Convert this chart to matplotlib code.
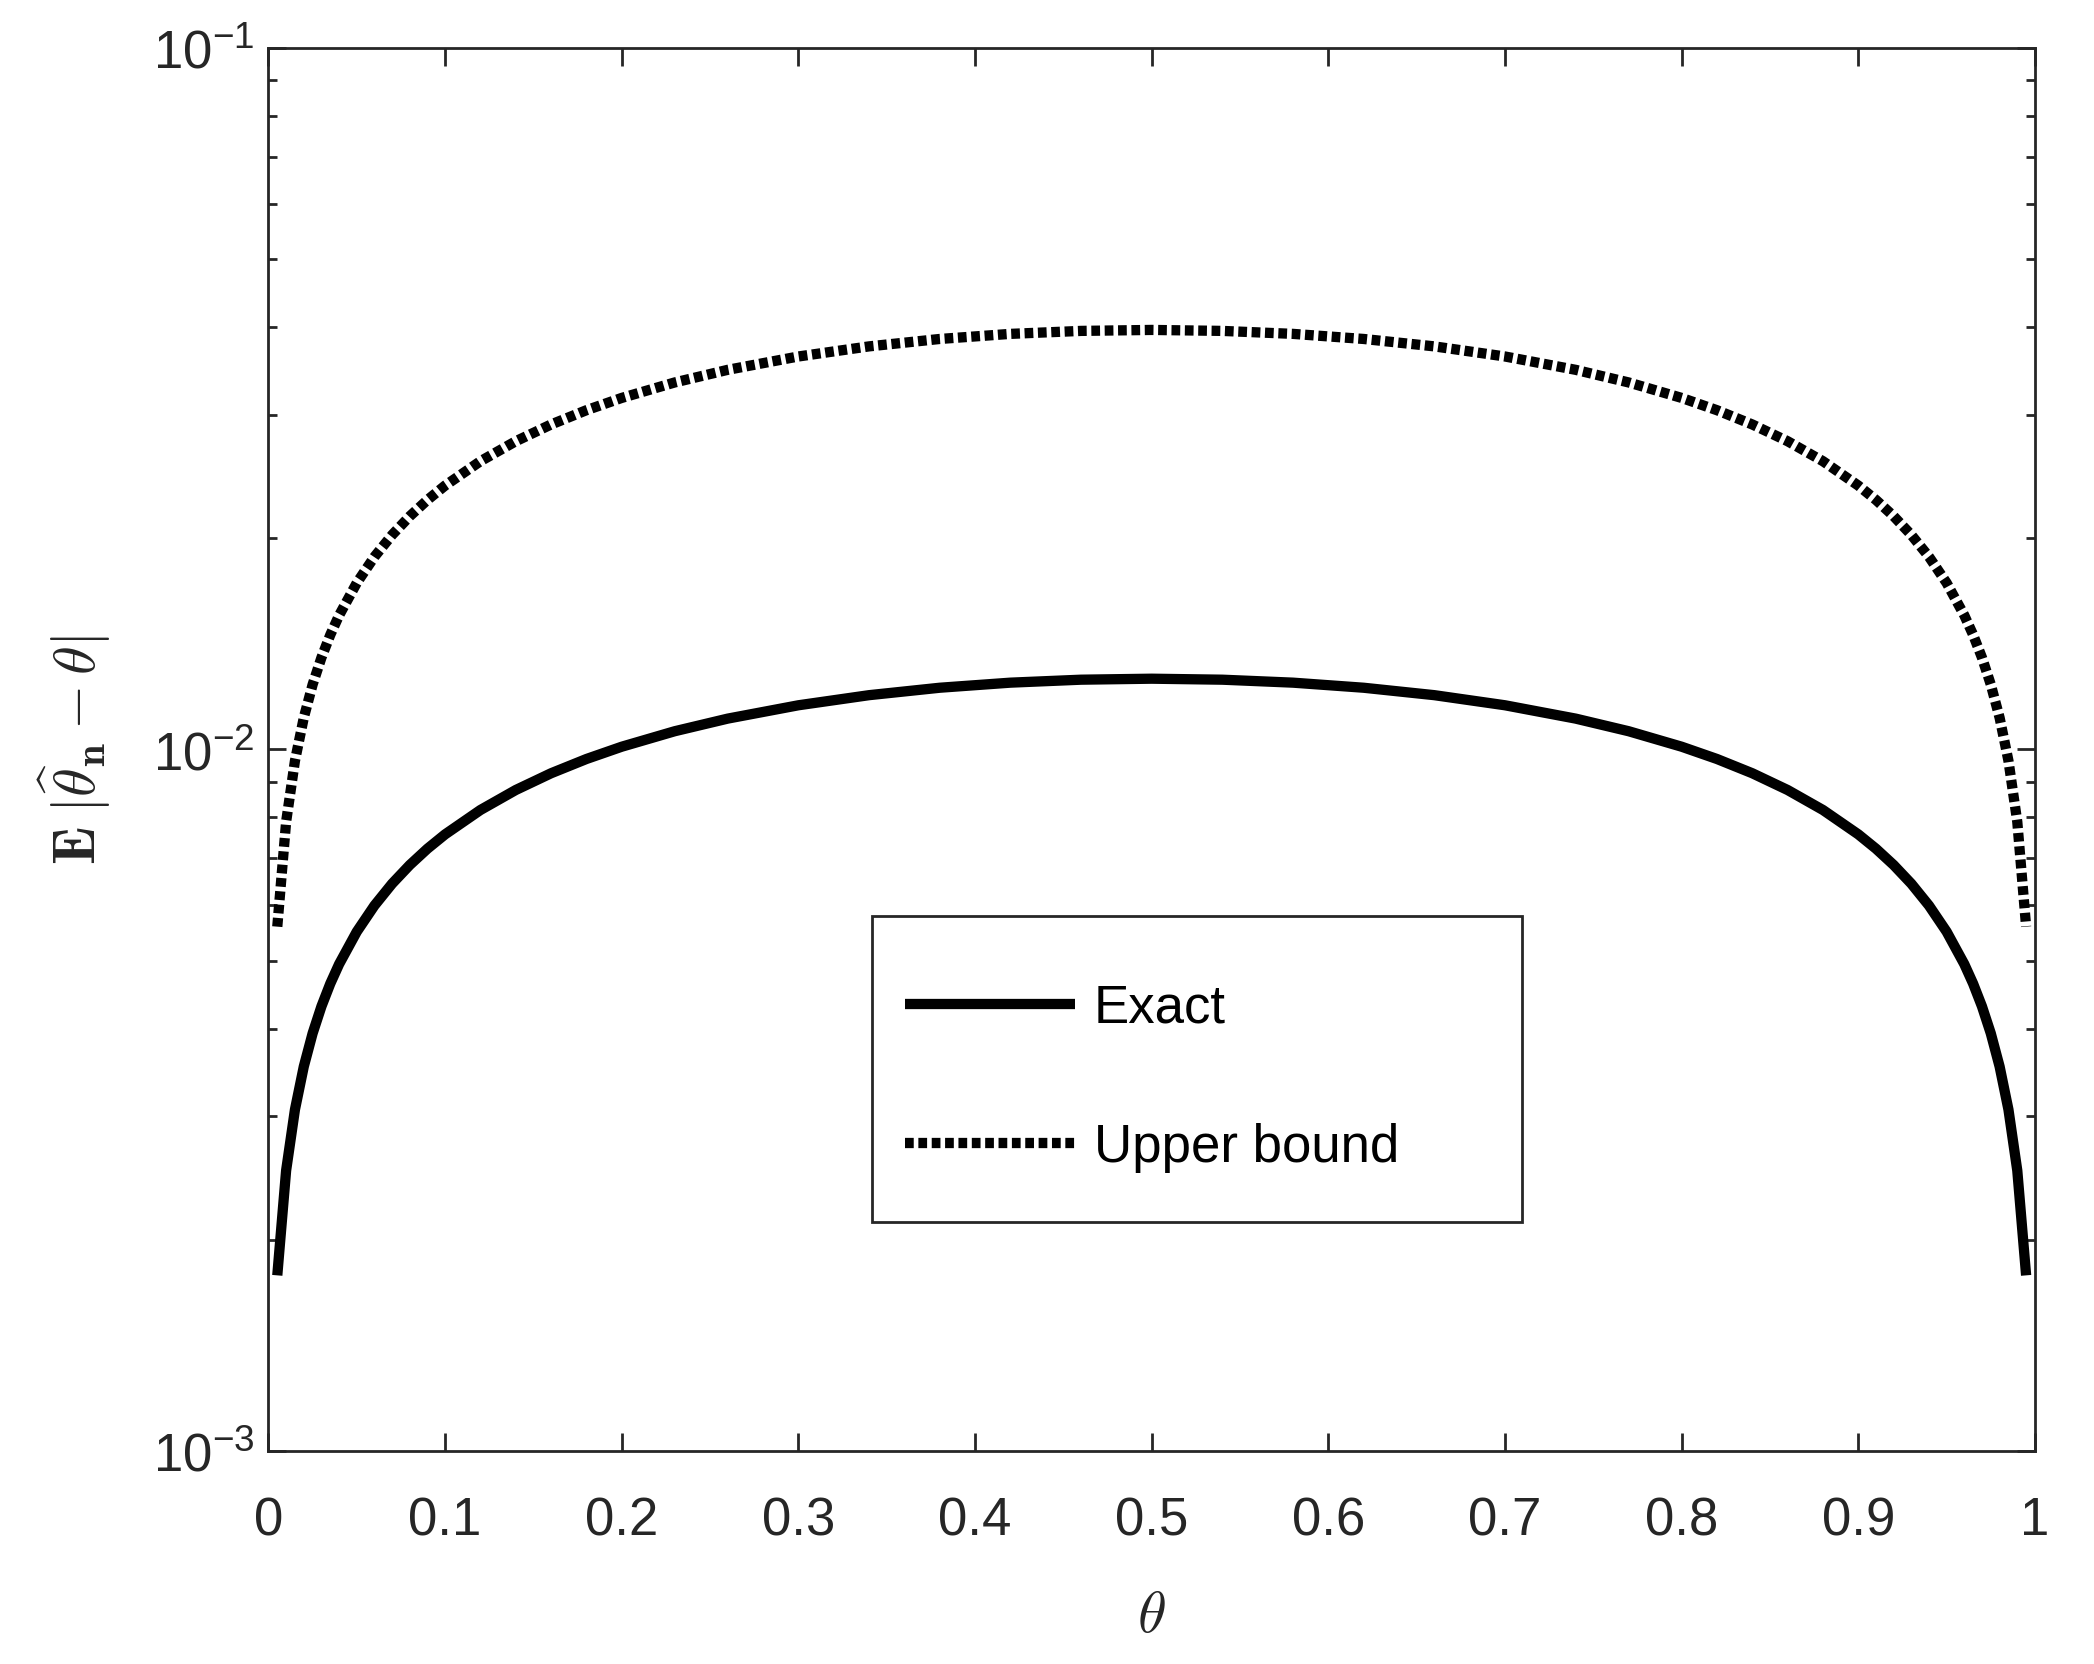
import matplotlib
matplotlib.use("Agg")
import matplotlib.pyplot as plt
from matplotlib.patches import Rectangle
from matplotlib.ticker import FixedLocator, FuncFormatter, LogLocator, NullFormatter

# theta grid and values (n = 1000 case)
theta = [0.005, 0.01, 0.015, 0.02, 0.025, 0.03, 0.035, 0.04, 0.05, 0.06,
         0.07, 0.08, 0.09, 0.10, 0.12, 0.14, 0.16, 0.18, 0.20, 0.23,
         0.26, 0.30, 0.34, 0.38, 0.42, 0.46, 0.50,
         0.54, 0.58, 0.62, 0.66, 0.70, 0.74, 0.77, 0.80, 0.82, 0.84,
         0.86, 0.88, 0.90, 0.91, 0.92, 0.93, 0.94, 0.95, 0.96, 0.965,
         0.97, 0.975, 0.98, 0.985, 0.99, 0.995]

exact = [1.780e-3, 2.511e-3, 3.067e-3, 3.532e-3, 3.939e-3, 4.304e-3, 4.637e-3, 4.944e-3, 5.499e-3, 5.992e-3,
         6.438e-3, 6.845e-3, 7.221e-3, 7.569e-3, 8.199e-3, 8.755e-3, 9.250e-3, 9.693e-3, 1.0092e-2, 1.0618e-2,
         1.1067e-2, 1.1562e-2, 1.1952e-2, 1.2247e-2, 1.2453e-2, 1.2575e-2, 1.2616e-2,
         1.2575e-2, 1.2453e-2, 1.2247e-2, 1.1952e-2, 1.1562e-2, 1.1067e-2, 1.0618e-2, 1.0092e-2, 9.693e-3, 9.250e-3,
         8.755e-3, 8.199e-3, 7.569e-3, 7.221e-3, 6.845e-3, 6.438e-3, 5.992e-3, 5.499e-3, 4.944e-3, 4.637e-3,
         4.304e-3, 3.939e-3, 3.532e-3, 3.067e-3, 2.511e-3, 1.780e-3]

upper = [5.591e-3, 7.887e-3, 9.635e-3, 1.1097e-2, 1.2376e-2, 1.3522e-2, 1.4568e-2, 1.5533e-2, 1.7276e-2, 1.8825e-2,
         2.0225e-2, 2.1505e-2, 2.2685e-2, 2.3780e-2, 2.5759e-2, 2.7505e-2, 2.9060e-2, 3.0453e-2, 3.1707e-2, 3.3358e-2,
         3.4769e-2, 3.6325e-2, 3.7550e-2, 3.8475e-2, 3.9123e-2, 3.9507e-2, 3.9634e-2,
         3.9507e-2, 3.9123e-2, 3.8475e-2, 3.7550e-2, 3.6325e-2, 3.4769e-2, 3.3358e-2, 3.1707e-2, 3.0453e-2, 2.9060e-2,
         2.7505e-2, 2.5759e-2, 2.3780e-2, 2.2685e-2, 2.1505e-2, 2.0225e-2, 1.8825e-2, 1.7276e-2, 1.5533e-2, 1.4568e-2,
         1.3522e-2, 1.2376e-2, 1.1097e-2, 9.635e-3, 7.887e-3, 5.591e-3]

labels = ['Exact', 'Upper bound']
xticks = [0, 0.1, 0.2, 0.3, 0.4, 0.5, 0.6, 0.7, 0.8, 0.9, 1]

plt.rcParams['font.family'] = ['Liberation Sans', 'DejaVu Sans']
plt.rcParams['mathtext.fontset'] = 'custom'
plt.rcParams['mathtext.rm'] = 'Liberation Sans'
plt.rcParams['mathtext.it'] = 'Liberation Sans:italic'
plt.rcParams['mathtext.bf'] = 'Liberation Sans:bold'

grey = '#262626'
fs = 19

fig = plt.figure(figsize=(10.47, 8.325), dpi=200)
ax = fig.add_axes([0.1282, 0.1279, 0.8436, 0.8427])

ax.plot(theta, exact, color='black', lw=3.7, solid_capstyle='butt',
        solid_joinstyle='round', label=labels[0])
ax.plot(theta, upper, color='black', lw=3.7, linestyle=(0, (0.85, 0.45)),
        dash_capstyle='butt', label=labels[1])

ax.set_yscale('log')
ax.set_xlim(0, 1)
ax.set_ylim(1e-3, 1e-1)

ax.xaxis.set_major_locator(FixedLocator(xticks))
ax.xaxis.set_major_formatter(FuncFormatter(lambda v, p: f'{v:g}'))
ax.yaxis.set_major_locator(LogLocator(base=10, numticks=10))
ax.yaxis.set_minor_locator(LogLocator(base=10, subs=range(2, 10), numticks=20))
ax.yaxis.set_minor_formatter(NullFormatter())

ax.tick_params(which='both', direction='in', top=True, right=True, color=grey,
               labelcolor=grey, labelsize=fs, width=1.0)
ax.tick_params(axis='x', which='major', length=6.5, pad=16)
ax.tick_params(axis='y', which='major', length=6.5, pad=5)
ax.tick_params(axis='y', which='minor', length=3.3)
for s in ax.spines.values():
    s.set_color(grey)
    s.set_linewidth(1.0)

ax.set_xlabel(r'$\theta$', fontsize=21, math_fontfamily='cm', color=grey)
ax.set_ylabel(r'$\mathbf{E}\;|\widehat{\theta}_{\mathbf{n}}-\theta|$', fontsize=21,
              math_fontfamily='cm', color=grey)
ax.xaxis.set_label_coords(0.5, -0.098)
ax.yaxis.set_label_coords(-0.088, 0.5)

# legend box drawn separately so the padding can differ in x and y
box = Rectangle((0.3416, 0.1632), 0.368, 0.2181, transform=ax.transAxes,
                facecolor='white', edgecolor=grey, lw=1.0, zorder=4.5)
ax.add_patch(box)
leg = ax.legend(loc='upper left', bbox_to_anchor=(0.3603, 0.3336),
                borderaxespad=0, borderpad=0, fontsize=fs, frameon=False,
                handlelength=3.22, handletextpad=0.36, labelspacing=1.69)
leg.set_zorder(5)

fig.savefig('out.png', dpi=200)
